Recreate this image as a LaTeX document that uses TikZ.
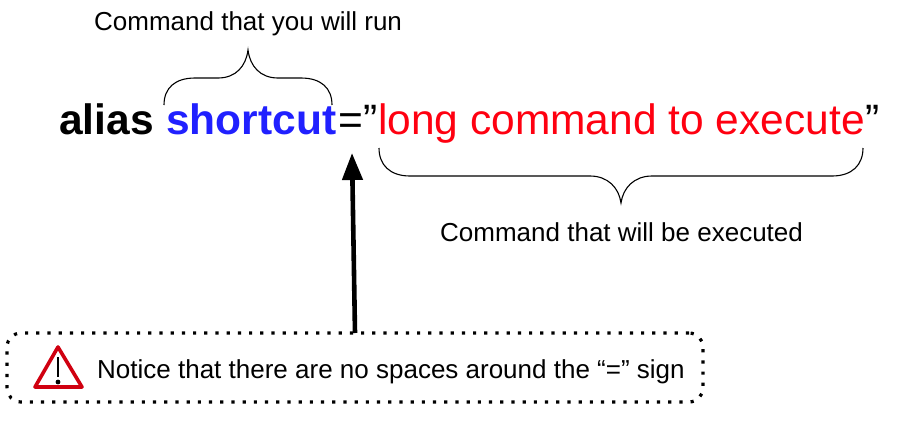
\documentclass[tikz,border=0pt]{standalone}
\usepackage{fontspec}
\setmainfont{Liberation Sans}
\usetikzlibrary{arrows.meta,positioning}

\definecolor{shortblue}{RGB}{32,32,255}
\definecolor{cmdred}{RGB}{255,0,16}
\definecolor{warnred}{RGB}{208,0,16}

\tikzset{
  bigtext/.style={inner sep=0pt,anchor=base west,font=\fontsize{42.5}{50}\selectfont},
  smalltext/.style={inner sep=0pt,anchor=base west,font=\fontsize{26}{30}\selectfont},
  brace/.style={black,line width=1.1pt},
  notebox/.style={draw,rounded corners=14pt,line width=3.2pt,
    dash pattern=on 3.2pt off 8pt,minimum width=696pt,minimum height=69pt,inner sep=0pt}
}

\begin{document}
\begin{tikzpicture}[x=1pt,y=-1pt]

\useasboundingbox (0,0) rectangle (900,424);

% Main line
\node[bigtext] (alias) at (59,134) {\bfseries alias};
\node[bigtext,text=shortblue] (shortcut) at (166,134) {\bfseries shortcut};
\node[bigtext] (equals) at (338,134) {=”};
\node[bigtext,text=cmdred] (longcmd) at (378,134) {long command to execute};
\node[bigtext] (closing) at (865,134) {”};

% Top brace
\node[smalltext] (runlabel) at (94,30) {Command that you will run};
\draw[brace] (164,105) .. controls (164,88) and (175,78) .. (195,78) -- (218,78)
  .. controls (236,78) and (246,66) .. (248,50)
  .. controls (250,66) and (260,78) .. (278,78) -- (301,78)
  .. controls (321,78) and (332,88) .. (332,105);

% Bottom brace
\node[smalltext] (execlabel) at (440,241) {Command that will be executed};
\draw[brace] (379,148) .. controls (379,165) and (390,176) .. (410,176) -- (590,176)
  .. controls (608,176) and (619,188) .. (621,203)
  .. controls (623,188) and (634,176) .. (652,176) -- (832,176)
  .. controls (852,176) and (863,165) .. (863,148);

% Note
\node[notebox] (note) at (355,367.5) {};
\node[smalltext] (notetext) at (97,378) {Notice that there are no spaces around the “=” sign};

% Warning sign
\draw[warnred,line width=3.6pt,line join=round,fill=white] (58,347) -- (82,387) -- (35,387) -- cycle;
\draw[black,line width=2.6pt] (58,357) -- (58,377);
\fill[black] (58,382) circle (2.4pt);

% Arrow
\coordinate (tip) at (352,153);
\coordinate (tail) at (355,333);
\draw[line width=4.6pt,-{Triangle[length=27pt,width=20pt]}] (tail) -- (tip);

\end{tikzpicture}
\end{document}
